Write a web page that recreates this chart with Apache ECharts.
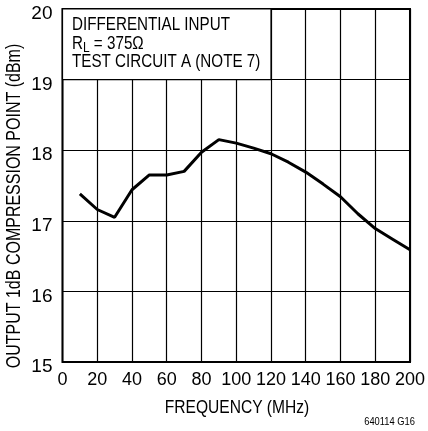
<!DOCTYPE html>
<html>
<head>
<meta charset="utf-8">
<script src="https://cdn.jsdelivr.net/npm/echarts@6/dist/echarts.min.js"></script>
<style>html,body{margin:0;padding:0;background:#fff}#c{width:428px;height:431px}</style>
</head>
<body>
<div id="c"></div>
<script>
const frequencyMHz = [10, 20, 30, 40, 50, 60, 70, 80, 90, 100, 110, 120, 130, 140, 150, 160, 170, 180, 190, 200];
const compressionDbm = [17.38, 17.16, 17.05, 17.44, 17.65, 17.65, 17.70, 17.97, 18.15, 18.10, 18.03, 17.95, 17.83, 17.69, 17.52, 17.34, 17.10, 16.89, 16.74, 16.59];
const xTicks = [0, 20, 40, 60, 80, 100, 120, 140, 160, 180, 200];
const yTicks = [15, 16, 17, 18, 19, 20];
const noteBox = [[0, 19], [120, 20]];
const noteLines = ['DIFFERENTIAL INPUT', 'R_L = 375Ω', 'TEST CIRCUIT A (NOTE 7)'];
const xTitle = 'FREQUENCY (MHz)';
const yTitle = 'OUTPUT 1dB COMPRESSION POINT (dBm)';
const footer = '640114 G16';

const FONT = "'Liberation Sans', Arial, sans-serif";
const NARROW = 0.8;
const chart = echarts.init(document.getElementById('c'), null, {renderer: 'canvas'});
chart.setOption({
  backgroundColor: '#fff',
  animation: false,
  grid: {left: 62.5, right: 15, top: 9, bottom: 69, show: true, borderColor: '#000', borderWidth: 2, backgroundColor: 'transparent'},
  xAxis: {
    type: 'value', min: xTicks[0], max: xTicks[xTicks.length - 1], interval: 20,
    axisLine: {show: false}, axisTick: {show: false},
    splitLine: {show: true, lineStyle: {color: '#000', width: 1.2}},
    axisLabel: {color: '#000', fontFamily: FONT, fontSize: 18, margin: 9}
  },
  yAxis: {
    type: 'value', min: yTicks[0], max: yTicks[yTicks.length - 1], interval: 1,
    axisLine: {show: false}, axisTick: {show: false},
    splitLine: {show: true, lineStyle: {color: '#000', width: 1.2}},
    axisLabel: {color: '#000', fontFamily: FONT, fontSize: 19, margin: 10, verticalAlign: 'top', lineHeight: 10}
  },
  series: [{
    type: 'line',
    data: frequencyMHz.map((f, i) => [f, compressionDbm[i]]),
    showSymbol: false,
    lineStyle: {color: '#000', width: 3},
    z: 3,
    markArea: {
      silent: true,
      itemStyle: {color: '#fff', borderColor: '#000', borderWidth: 1.2},
      data: [[{coord: noteBox[0]}, {coord: noteBox[1]}]]
    }
  }],
  graphic: [
    {type: 'text', z: 10, x: 72, y: 24.5, scaleX: NARROW, style: {text: noteLines[0], font: "19px " + FONT, fill: '#000', verticalAlign: 'middle'}},
    {type: 'text', z: 10, x: 72, y: 44, scaleX: NARROW, style: {
      text: '{a|R}{b|L}{a| = 375Ω}', verticalAlign: 'middle',
      rich: {a: {fontSize: 19, fontFamily: FONT, fill: '#000'}, b: {fontSize: 15, fontFamily: FONT, fill: '#000', padding: [8, 0, 0, 0]}}
    }},
    {type: 'text', z: 10, x: 72, y: 62, scaleX: NARROW, style: {text: noteLines[2], font: "19px " + FONT, fill: '#000', verticalAlign: 'middle'}},
    {type: 'text', x: 237, y: 408, scaleX: 0.82, style: {text: xTitle, font: "19px " + FONT, fill: '#000', align: 'center', verticalAlign: 'middle'}},
    {type: 'text', x: 14, y: 206, rotation: Math.PI / 2, scaleX: 0.8, style: {text: yTitle, font: "20px " + FONT, fill: '#000', align: 'center', verticalAlign: 'middle'}},
    {type: 'text', x: 415, y: 422, scaleX: 0.85, style: {text: footer, font: "11px " + FONT, fill: '#000', align: 'right', verticalAlign: 'middle'}}
  ]
});
</script>
</body>
</html>
